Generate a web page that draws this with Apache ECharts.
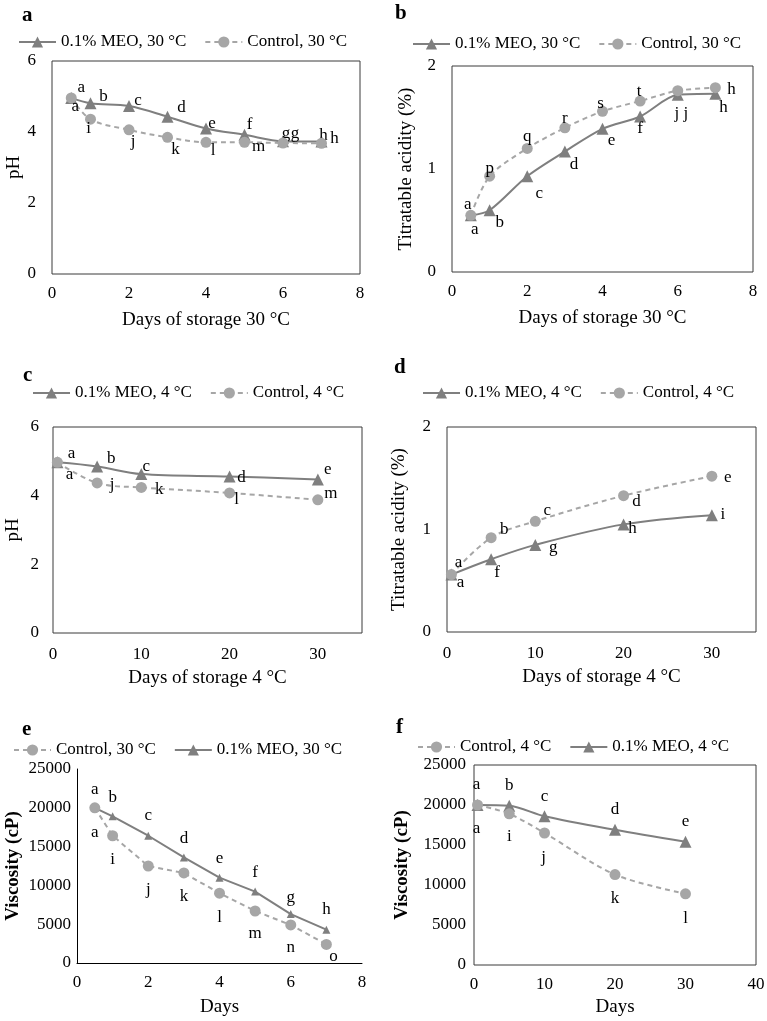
<!DOCTYPE html>
<html><head><meta charset="utf-8">
<script src="https://cdn.jsdelivr.net/npm/echarts@6/dist/echarts.min.js"></script>
<style>html,body{margin:0;padding:0;background:#fff}#c{width:767px;height:1021px}</style>
</head><body><div id="c"></div>
<script>
// ---------- DATA ----------
const days30 = [0.5, 1, 2, 3, 4, 5, 6, 7];
const days4 = [0.5, 5, 10, 20, 30];

const phMEO30 = [4.96, 4.81, 4.73, 4.43, 4.10, 3.92, 3.74, 3.73];
const phCtrl30 = [4.96, 4.36, 4.06, 3.85, 3.71, 3.71, 3.69, 3.68];
const taMEO30 = [0.55, 0.60, 0.93, 1.17, 1.39, 1.51, 1.72, 1.73];
const taCtrl30 = [0.55, 0.93, 1.20, 1.40, 1.56, 1.66, 1.76, 1.79];
const phMEO4 = [4.97, 4.85, 4.63, 4.56, 4.47];
const phCtrl4 = [4.97, 4.37, 4.24, 4.08, 3.88];
const taMEO4 = [0.56, 0.71, 0.85, 1.05, 1.14];
const taCtrl4 = [0.56, 0.92, 1.08, 1.33, 1.52];
const viscMEO30 = [20000, 18900, 16400, 13600, 11000, 9200, 6300, 4300];
const viscCtrl30 = [20000, 16400, 12500, 11600, 9000, 6700, 4900, 2400];
const viscMEO4 = [20000, 19900, 18600, 16900, 15400];
const viscCtrl4 = [20000, 18900, 16500, 11300, 8900];

// significance letters
const lettersA_MEO = ['a', 'b', 'c', 'd', 'e', 'f', 'g', 'h'];
const lettersA_Ctrl = ['a', 'i', 'j', 'k', 'l', 'm', 'g', 'h'];
const lettersB_MEO = ['a', 'b', 'c', 'd', 'e', 'f', 'j', 'h'];
const lettersB_Ctrl = ['a', 'p', 'q', 'r', 's', 't', 'j', 'h'];
const lettersC_MEO = ['a', 'b', 'c', 'd', 'e'];
const lettersC_Ctrl = ['a', 'j', 'k', 'l', 'm'];
const lettersD_MEO = ['a', 'f', 'g', 'h', 'i'];
const lettersD_Ctrl = ['a', 'b', 'c', 'd', 'e'];
const lettersE_MEO = ['a', 'b', 'c', 'd', 'e', 'f', 'g', 'h'];
const lettersE_Ctrl = ['a', 'i', 'j', 'k', 'l', 'm', 'n', 'o'];
const lettersF_MEO = ['a', 'b', 'c', 'd', 'e'];
const lettersF_Ctrl = ['a', 'i', 'j', 'k', 'l'];

// names / texts
const nameMEO30 = '0.1% MEO, 30 °C';
const nameCtrl30 = 'Control, 30 °C';
const nameMEO4 = '0.1% MEO, 4 °C';
const nameCtrl4 = 'Control, 4 °C';
const panelLetters = ['a', 'b', 'c', 'd', 'e', 'f'];
const xTitles = ['Days of storage 30 °C', 'Days of storage 30 °C', 'Days of storage 4 °C', 'Days of storage 4 °C', 'Days', 'Days'];
const yTitles = ['pH', 'Titratable acidity (%)', 'pH', 'Titratable acidity (%)', 'Viscosity (cP)', 'Viscosity (cP)'];
const xRanges = [[0, 8, 2], [0, 8, 2], [0, 35, 10], [0, 35, 10], [0, 8, 2], [0, 40, 10]];
const yRanges = [[0, 6, 2], [0, 2, 1], [0, 6, 2], [0, 2, 1], [0, 25000, 5000], [0, 25000, 5000]];

// ---------- STYLE / LAYOUT ----------
const FONT = '"Liberation Serif", "Times New Roman", serif';
const C_MEO = '#7f7f7f';
const C_CTRL = '#a6a6a6';

const grids = [
  {left: 52, top: 61, width: 308, height: 213},
  {left: 452, top: 66, width: 301, height: 206},
  {left: 53, top: 427, width: 309, height: 206},
  {left: 447, top: 427, width: 309, height: 205},
  {left: 77, top: 769, width: 285, height: 194},
  {left: 474, top: 765, width: 282, height: 200}
];
const boxed = [true, true, true, true, false, true];
const yLabelMargin = [16, 16, 14, 16, 6, 8];
const xLabelMargin = [11, 11, 13, 13, 11, 11];
const xNameGap = [37, 37, 36, 36, 35, 33];
const yNameGap = [28, 36, 30, 38, 54, 62];
const yNameBold = [false, false, false, false, true, true];
const titlePos = [[22, 16], [395, 14], [23, 376], [394, 368], [22, 730], [396, 728]];
const legendPos = [[18, 32], [412, 34], [32, 383], [422, 383], [13, 740], [417, 737]];
const smooth = [0.35, 0.3, 0.35, 0.35, false, 0.3];
const triSize = [12, 12, 12, 12, 8, 12];

const offA_MEO = [[10, -10], [13, -7], [9, -6], [14, -9], [6, -5], [5, -10], [3, -8], [2, -6]];
const offA_Ctrl = [[4, 9], [-2, 9], [4, 12], [8, 12], [7, 8], [14, 4], [12, -9], [13, -5]];
const offB_MEO = [[4, 14], [10, 12], [12, 17], [9, 13], [9, 12], [0, 12], [-1, 19], [8, 14]];
const offB_Ctrl = [[-3, -11], [0, -8], [0, -12], [0, -9], [-2, -8], [-1, -9], [8, 23], [16, 2]];
const offC_MEO = [[14, -9], [14, -8], [5, -8], [12, 1], [10, -10]];
const offC_Ctrl = [[12, 12], [15, 2], [18, 2], [7, 7], [13, -6]];
const offD_MEO = [[9, 8], [6, 13], [18, 3], [9, 4], [11, -1]];
const offD_Ctrl = [[7, -12], [13, -8], [12, -11], [13, 6], [16, 1]];
const offE_MEO = [[0, -18], [0, -19], [0, -20], [0, -19], [0, -19], [0, -19], [0, -17], [0, -20]];
const offE_Ctrl = [[0, 25], [0, 24], [0, 24], [0, 24], [0, 24], [0, 23], [0, 23], [7, 12]];
const offF_MEO = [[-1, -20], [0, -20], [0, -20], [0, -20], [0, -20]];
const offF_Ctrl = [[-1, 24], [0, 23], [-1, 25], [0, 24], [0, 25]];

function pts(xs, ys, letters, offs) {
  return xs.map((x, i) => ({
    value: [x, ys[i]],
    label: {formatter: letters[i], offset: offs[i]}
  }));
}

const panels = [
  {meo: [days30, phMEO30, lettersA_MEO, offA_MEO], ctrl: [days30, phCtrl30, lettersA_Ctrl, offA_Ctrl], names: [nameMEO30, nameCtrl30], legend: [nameMEO30, nameCtrl30]},
  {meo: [days30, taMEO30, lettersB_MEO, offB_MEO], ctrl: [days30, taCtrl30, lettersB_Ctrl, offB_Ctrl], names: [nameMEO30, nameCtrl30], legend: [nameMEO30, nameCtrl30]},
  {meo: [days4, phMEO4, lettersC_MEO, offC_MEO], ctrl: [days4, phCtrl4, lettersC_Ctrl, offC_Ctrl], names: [nameMEO4, nameCtrl4], legend: [nameMEO4, nameCtrl4]},
  {meo: [days4, taMEO4, lettersD_MEO, offD_MEO], ctrl: [days4, taCtrl4, lettersD_Ctrl, offD_Ctrl], names: [nameMEO4, nameCtrl4], legend: [nameMEO4, nameCtrl4]},
  {meo: [days30, viscMEO30, lettersE_MEO, offE_MEO], ctrl: [days30, viscCtrl30, lettersE_Ctrl, offE_Ctrl], names: [nameMEO30, nameCtrl30], legend: [nameCtrl30, nameMEO30]},
  {meo: [days4, viscMEO4, lettersF_MEO, offF_MEO], ctrl: [days4, viscCtrl4, lettersF_Ctrl, offF_Ctrl], names: [nameMEO4, nameCtrl4], legend: [nameCtrl4, nameMEO4]}
];

const labelBase = {
  show: true, position: 'inside', color: '#000', fontFamily: FONT, fontSize: 17,
  align: 'center', verticalAlign: 'middle'
};

const option = {
  animation: false,
  backgroundColor: '#fff',
  textStyle: {fontFamily: FONT},
  grid: [], xAxis: [], yAxis: [], series: [], legend: [], graphic: []
};

panels.forEach((p, k) => {
  const g = grids[k];
  option.grid.push(Object.assign({
    show: boxed[k], borderColor: '#3a3a3a', borderWidth: 1, backgroundColor: 'transparent',
    containLabel: false, outerBoundsMode: 'none'
  }, g));
  option.xAxis.push({
    type: 'value', gridIndex: k, min: xRanges[k][0], max: xRanges[k][1], interval: xRanges[k][2],
    axisLine: {show: !boxed[k], onZero: false, lineStyle: {color: '#000', width: 1}},
    axisTick: {show: false}, splitLine: {show: false},
    axisLabel: {color: '#000', fontFamily: FONT, fontSize: 17, margin: xLabelMargin[k],
      showMaxLabel: xRanges[k][1] % xRanges[k][2] === 0,
      formatter: v => String(v)},
    name: xTitles[k], nameLocation: 'middle', nameGap: xNameGap[k],
    nameTextStyle: {color: '#000', fontFamily: FONT, fontSize: 19}
  });
  option.yAxis.push({
    type: 'value', gridIndex: k, min: yRanges[k][0], max: yRanges[k][1], interval: yRanges[k][2],
    axisLine: {show: !boxed[k], onZero: false, lineStyle: {color: '#000', width: 1}},
    axisTick: {show: false}, splitLine: {show: false},
    axisLabel: {color: '#000', fontFamily: FONT, fontSize: 17, margin: yLabelMargin[k], formatter: v => String(v)},
    name: yTitles[k], nameLocation: 'middle', nameGap: yNameGap[k],
    nameTextStyle: {color: '#000', fontFamily: FONT, fontSize: 19, fontWeight: yNameBold[k] ? 'bold' : 'normal'}
  });
  option.series.push({
    type: 'line', name: p.names[0], xAxisIndex: k, yAxisIndex: k,
    data: pts(...p.meo), smooth: smooth[k],
    symbol: 'triangle', symbolSize: triSize[k],
    lineStyle: {color: C_MEO, width: 2, type: 'solid'},
    itemStyle: {color: C_MEO},
    label: labelBase, z: 2
  });
  option.series.push({
    type: 'line', name: p.names[1], xAxisIndex: k, yAxisIndex: k,
    data: pts(...p.ctrl), smooth: smooth[k],
    symbol: 'circle', symbolSize: 11,
    lineStyle: {color: C_CTRL, width: 2, type: [5, 4]},
    itemStyle: {color: C_CTRL},
    label: labelBase, z: 3
  });
  option.legend.push({
    left: legendPos[k][0], top: legendPos[k][1], orient: 'horizontal', padding: 0,
    data: p.legend, itemWidth: 37, itemHeight: 14, itemGap: 18,
    selectedMode: false,
    textStyle: {color: '#000', fontFamily: FONT, fontSize: 17, lineHeight: 20}
  });
  option.graphic.push({
    type: 'text', left: titlePos[k][0], top: titlePos[k][1] - 11,
    style: {text: panelLetters[k], font: 'bold 21px ' + FONT, fill: '#000'}
  });
});

const chart = echarts.init(document.getElementById('c'), null, {renderer: 'canvas'});
chart.setOption(option);
</script>
</body></html>
